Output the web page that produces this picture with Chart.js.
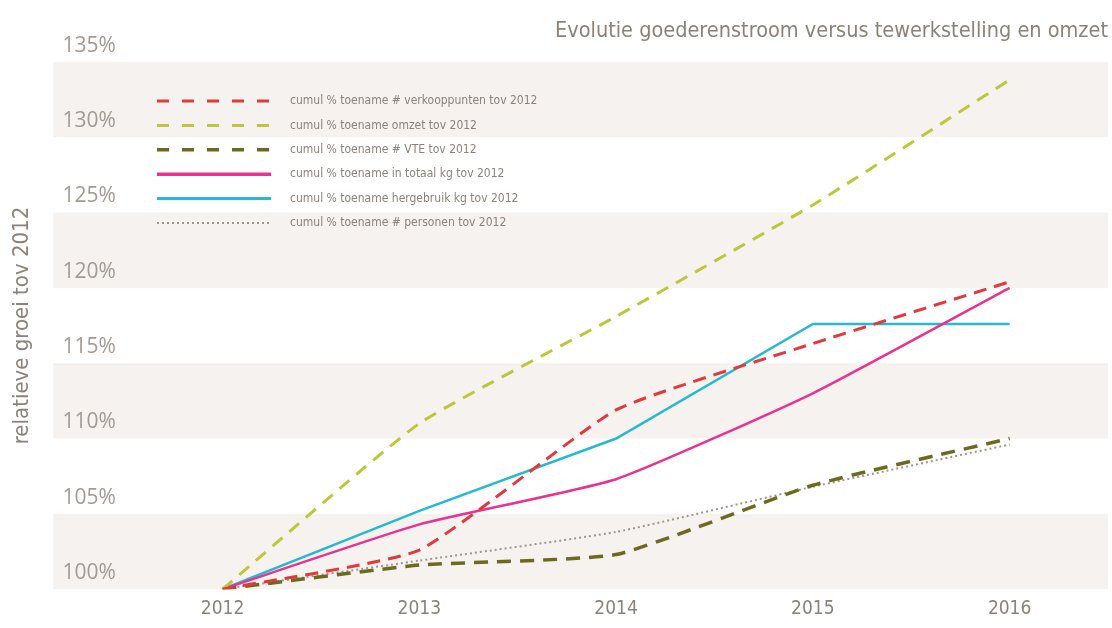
<!DOCTYPE html>
<html>
<head>
<meta charset="utf-8">
<script src="https://cdn.jsdelivr.net/npm/chart.js@4/dist/chart.umd.min.js"></script>
<style>
  body { margin: 0; background: #fff; }
  #wrap { width: 1112px; height: 628px; }
</style>
</head>
<body>
<div id="wrap"><canvas id="myChart"></canvas></div>
<script>
// data
const years = [2012, 2013, 2014, 2015, 2016];
const verkooppunten = [100, 102.6, 111.9, 116.3, 120.4];
const omzet = [100, 111.0, 118.1, 125.5, 133.8];
const vte = [100, 101.6, 102.3, 106.9, 110.0];
const totaalKg = [100, 104.3, 107.3, 113.0, 120.0];
const hergebruikKg = [100, 105.2, 110.0, 117.6, 117.6];
const personen = [100, 101.9, 103.8, 106.8, 109.6];
const yTicks = [100, 105, 110, 115, 120, 125, 130, 135];

const textColor = '#8c8279';
const narrow = "'Liberation Sans Narrow', 'DejaVu Sans Condensed', sans-serif";

const toPoints = arr => arr.map((v, i) => ({ x: years[i], y: v }));

// grey bands, drawn first so the tick labels stay on top
const bandsPlugin = {
  id: 'bands',
  beforeDraw(chart) {
    const { ctx, chartArea, scales } = chart;
    ctx.save();
    ctx.fillStyle = '#f5f2f0';
    for (let i = 0; i < yTicks.length - 1; i += 2) {
      const top = scales.y.getPixelForValue(yTicks[i + 1]);
      const bottom = scales.y.getPixelForValue(yTicks[i]);
      ctx.fillRect(chartArea.left, top, chartArea.right - chartArea.left, bottom - top);
    }
    ctx.restore();
  }
};

// legend drawn inside the plot, like the original
const legendPlugin = {
  id: 'insideLegend',
  afterDatasetsDraw(chart) {
    const ctx = chart.ctx;
    ctx.save();
    ctx.font = '12px ' + narrow;
    ctx.textBaseline = 'middle';
    chart.data.datasets.forEach((ds, i) => {
      const y = 101 + i * 24.4;
      ctx.strokeStyle = ds.borderColor;
      ctx.lineWidth = ds.legendWidth;
      ctx.setLineDash(ds.legendDash || []);
      ctx.beginPath();
      ctx.moveTo(157, y);
      ctx.lineTo(271, y);
      ctx.stroke();
      ctx.fillStyle = textColor;
      ctx.fillText(ds.label, 290, y);
    });
    ctx.restore();
  }
};

let ctx = document.getElementById('myChart').getContext('2d');
let myChart = new Chart(ctx, {
  type: 'line',
  data: {
    datasets: [
      {
        label: 'cumul % toename # verkooppunten tov 2012',
        data: toPoints(verkooppunten),
        borderColor: '#e0393e',
        borderWidth: 3,
        borderDash: [13, 8],
        legendWidth: 3,
        legendDash: [12, 13],
      },
      {
        label: 'cumul % toename omzet tov 2012',
        data: toPoints(omzet),
        borderColor: '#bcc83a',
        borderWidth: 3,
        borderDash: [13, 9],
        legendWidth: 3,
        legendDash: [12, 13],
      },
      {
        label: 'cumul % toename # VTE tov 2012',
        data: toPoints(vte),
        borderColor: '#6b6a1e',
        borderWidth: 3.5,
        borderDash: [14, 9],
        legendWidth: 3.5,
        legendDash: [12, 13],
      },
      {
        label: 'cumul % toename in totaal kg tov 2012',
        data: toPoints(totaalKg),
        borderColor: '#e8338f',
        borderWidth: 2.5,
        legendWidth: 3.5,
      },
      {
        label: 'cumul % toename hergebruik kg tov 2012',
        data: toPoints(hergebruikKg),
        borderColor: '#29b9cf',
        borderWidth: 2.5,
        legendWidth: 3,
        tension: 0,
      },
      {
        label: 'cumul % toename # personen tov 2012',
        data: toPoints(personen),
        borderColor: '#9d968e',
        borderWidth: 2,
        borderDash: [2, 3],
        legendWidth: 2,
        legendDash: [2, 3],
      },
    ],
  },
  options: {
    responsive: true,
    maintainAspectRatio: false,
    animation: false,
    elements: {
      point: { radius: 0, hoverRadius: 0 },
      line: { tension: 0.15, borderCapStyle: 'butt' },
    },
    layout: { padding: { left: 2, right: 4, top: 0, bottom: 0 } },
    plugins: {
      legend: { display: false },
      tooltip: { enabled: false },
      title: {
        display: true,
        text: 'Evolutie goederenstroom versus tewerkstelling en omzet',
        align: 'end',
        color: textColor,
        font: { family: narrow, size: 21.5, weight: 'normal' },
        padding: { top: 19, bottom: 17 },
      },
    },
    scales: {
      x: {
        type: 'linear',
        min: 2011.14,
        max: 2016.5,
        grid: { display: false, drawTicks: false },
        border: { display: false },
        afterBuildTicks: scale => {
          scale.ticks = years.map(v => ({ value: v }));
        },
        ticks: {
          color: textColor,
          padding: 8,
          autoSkip: false,
          font: { family: narrow, size: 19 },
          callback: v => String(v),
        },
      },
      y: {
        min: 100,
        max: 135,
        grid: { display: false, drawTicks: false },
        border: { display: false },
        afterBuildTicks: scale => {
          scale.ticks = yTicks.map(v => ({ value: v }));
        },
        ticks: {
          mirror: true,
          autoSkip: false,
          padding: 9,
          labelOffset: -16,
          color: '#a39b93',
          font: { family: "'Open Sans', sans-serif", size: 21 },
          callback: v => v + '%',
        },
        title: {
          display: true,
          text: 'relatieve groei tov 2012',
          color: textColor,
          font: { family: narrow, size: 22 },
          padding: { top: 7, bottom: 0 },
        },
      },
    },
  },
  plugins: [bandsPlugin, legendPlugin],
});
</script>
</body>
</html>
